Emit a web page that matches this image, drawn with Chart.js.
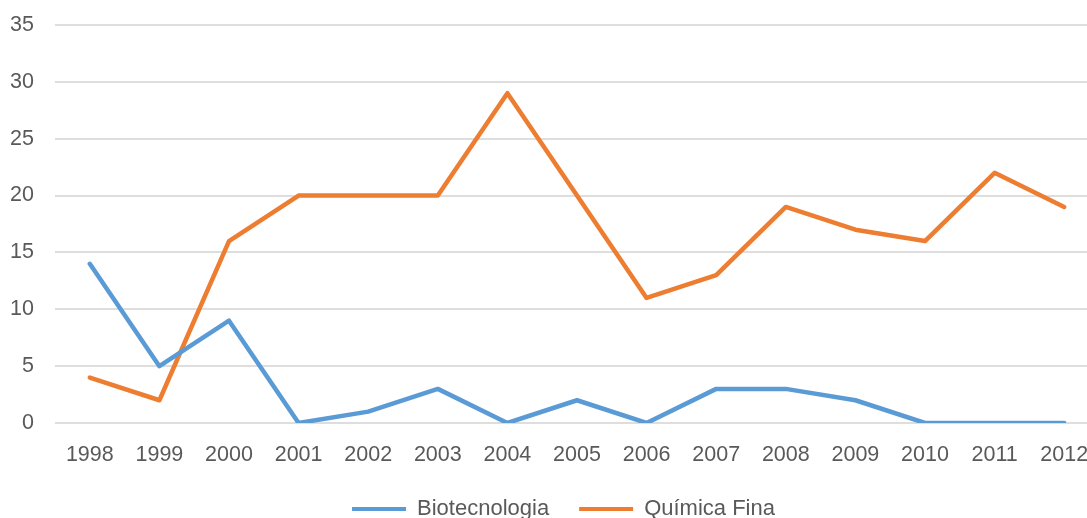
<!DOCTYPE html>
<html>
<head>
<meta charset="utf-8">
<script src="https://cdn.jsdelivr.net/npm/chart.js@4/dist/chart.umd.min.js"></script>
<style>
  html, body { margin: 0; padding: 0; background: #ffffff; overflow: hidden; }
  #wrap { position: absolute; left: 0; top: 0; width: 1087px; height: 518px; overflow: hidden; }
  canvas { position: absolute; left: 0; top: 0; }
</style>
</head>
<body>
<div id="wrap"><canvas id="chart" width="1128" height="530"></canvas></div>
<script>
// Years on the category axis
const years = ['1998','1999','2000','2001','2002','2003','2004','2005','2006','2007','2008','2009','2010','2011','2012'];

// Series values per year
const biotecnologia = [14, 5, 9, 0, 1, 3, 0, 2, 0, 3, 3, 2, 0, 0, 0];
const quimicaFina   = [4, 2, 16, 20, 20, 20, 29, 20, 11, 13, 19, 17, 16, 22, 19];

// Value axis ticks
const yTicks = [0, 5, 10, 15, 20, 25, 30, 35];

const textColor = '#595959';
const fontFamily = '"Liberation Sans", Arial, sans-serif';

// Nudge the legend block so it is centred under the plot rather than the canvas
const legendShift = {
  id: 'legendShift',
  afterLayout(chart) {
    if (chart.legend) chart.legend.left += 28;
  }
};

new Chart(document.getElementById('chart'), {
  type: 'line',
  data: {
    labels: years,
    datasets: [
      {
        label: 'Biotecnologia',
        data: biotecnologia,
        borderColor: '#5B9BD5',
        backgroundColor: '#5B9BD5',
        borderWidth: 4.5,
        pointRadius: 0,
        tension: 0,
        borderCapStyle: 'round',
        borderJoinStyle: 'round'
      },
      {
        label: 'Química Fina',
        data: quimicaFina,
        borderColor: '#ED7D31',
        backgroundColor: '#ED7D31',
        borderWidth: 4.5,
        pointRadius: 0,
        tension: 0,
        borderCapStyle: 'round',
        borderJoinStyle: 'round'
      }
    ]
  },
  plugins: [legendShift],
  options: {
    responsive: false,
    animation: false,
    devicePixelRatio: 1,
    layout: { padding: { top: 25, right: 29, left: 0, bottom: 0 } },
    plugins: {
      tooltip: { enabled: false },
      legend: {
        position: 'bottom',
        labels: {
          color: textColor,
          font: { family: fontFamily, size: 22 },
          boxWidth: 54,
          boxHeight: 4,
          padding: 30,
          generateLabels(chart) {
            return chart.data.datasets.map((ds, i) => ({
              text: ds.label,
              fillStyle: ds.borderColor,
              strokeStyle: ds.borderColor,
              lineWidth: 0,
              fontColor: textColor,
              datasetIndex: i,
              hidden: false
            }));
          }
        }
      }
    },
    scales: {
      x: {
        offset: true,
        grid: { display: false, drawTicks: false },
        border: { display: false },
        ticks: {
          color: textColor,
          font: { family: fontFamily, size: 21.5 },
          padding: 19,
          maxRotation: 0,
          autoSkip: false
        },
        afterFit(scale) { scale.height = 45; }
      },
      y: {
        min: 0,
        max: 35,
        afterBuildTicks(scale) { scale.ticks = yTicks.map(v => ({ value: v })); },
        grid: {
          color: '#DEDEDE',
          lineWidth: 2,
          drawTicks: true,
          tickLength: 9,
          tickColor: 'rgba(0,0,0,0)'
        },
        border: { display: false },
        ticks: {
          color: textColor,
          font: { family: fontFamily, size: 21.5 },
          padding: 12
        },
        afterFit(scale) { scale.width = 55; }
      }
    }
  }
});
</script>
</body>
</html>
